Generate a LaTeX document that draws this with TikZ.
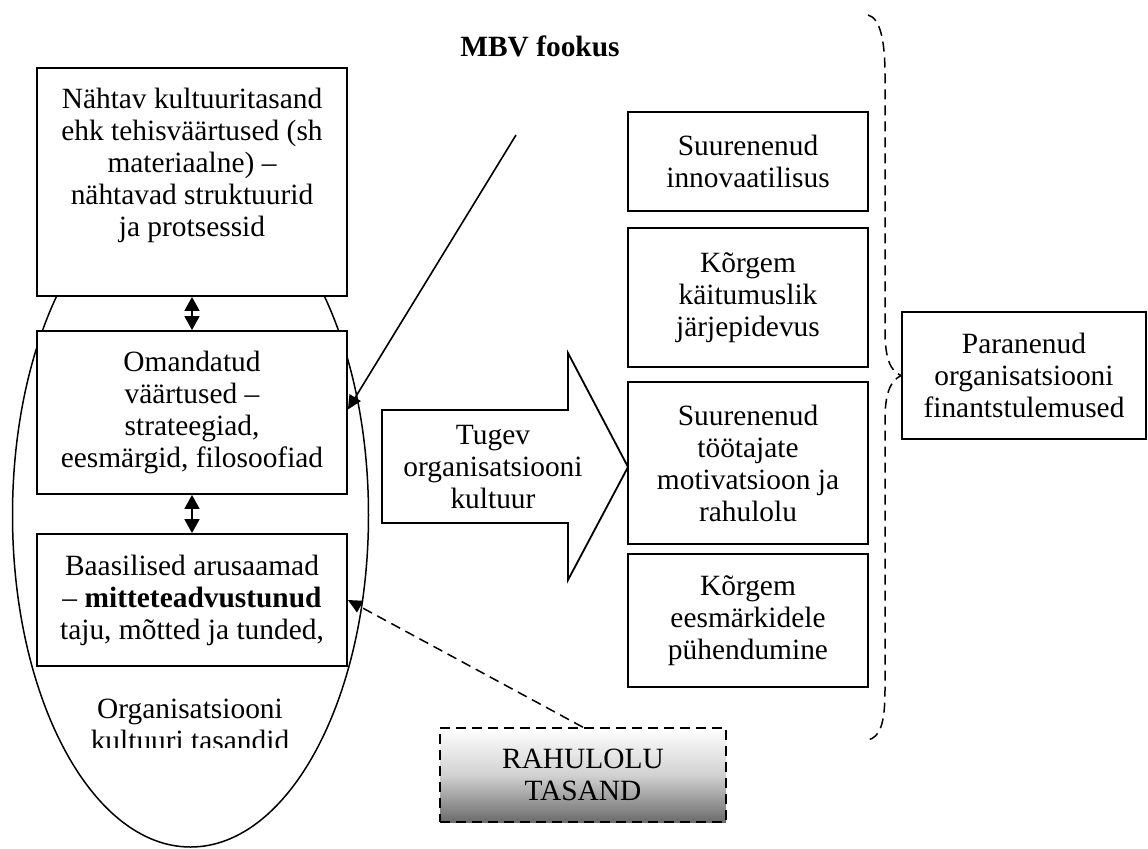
\documentclass[tikz,border=0pt]{standalone}
\usepackage{fontspec}
\setmainfont{Liberation Serif}
\usetikzlibrary{arrows.meta,calc}
\begin{document}
\begin{tikzpicture}[x=0.5pt,y=-0.5pt,
  txt/.style={font=\fontsize{14.7}{16}\selectfont, align=center},
  box/.style={txt, draw, line width=0.9pt, fill=white, inner sep=0pt},
  dbl/.style={{Triangle[length=7pt,width=7.5pt]}-{Triangle[length=7pt,width=7.5pt]}, line width=0.8pt},
  tip/.style={-{Triangle[length=7pt,width=6.5pt]}, line width=0.8pt},
  dash line/.style={dashed, dash pattern=on 5pt off 3pt, line width=0.75pt}
]
\useasboundingbox (0,0) rectangle (1148,848);

% the ellipse of culture levels, behind the boxes
\draw[line width=0.75pt] (190.5,515) ellipse [x radius=89pt, y radius=166pt];
\begin{scope}
  \clip (0,0) rectangle (1148,747);
  \node[txt] (levels) at (190,725) {Organisatsiooni\\kultuuri tasandid};
\end{scope}

% three levels of culture
\node[box, minimum width=155pt, minimum height=114pt] (b1) at (192,182) {};
\node[txt, anchor=north, inner sep=0pt] (b1t) at (192,88)
  {Nähtav kultuuritasand\\ehk tehisväärtused (sh\\materiaalne) –\\nähtavad struktuurid\\ja protsessid};
\node[box, minimum width=155pt, minimum height=81.5pt] (b2) at (192,412.5)
  {Omandatud\\väärtused –\\strateegiad,\\eesmärgid, filosoofiad};
\node[box, minimum width=155pt, minimum height=66pt] (b3) at (192,600)
  {Baasilised arusaamad\\– \textbf{mitteteadvustunud}\\taju, mõtted ja tunded,};

\draw[dbl] (b1.south) -- (b2.north);
\draw[dbl] (b2.south) -- (b3.north);

% focus label
\node[txt, font=\fontsize{14.7}{16}\selectfont\bfseries] (mbv) at (540,46) {MBV fookus};
\coordinate (mbvend) at (516,135);
\draw[tip] (mbvend) -- ($(b2.east)+(0,-3)$);

% big arrow
\draw[line width=0.9pt, fill=white] (382,410) -- (568,410) -- (568,353) -- (628,467)
  -- (568,580) -- (568,523) -- (382,523) -- cycle;
\node[txt] (strong) at (493,467) {Tugev\\organisatsiooni\\kultuur};

% outcomes
\node[box, minimum width=120pt, minimum height=49.5pt] (r1) at (748,161.5)
  {Suurenenud\\innovaatilisus};
\node[box, minimum width=120pt, minimum height=69.5pt] (r2) at (748,297.5)
  {Kõrgem\\käitumuslik\\järjepidevus};
\node[box, minimum width=120pt, minimum height=81pt] (r3) at (748,463)
  {Suurenenud\\töötajate\\motivatsioon ja\\rahulolu};
\node[box, minimum width=120pt, minimum height=66.5pt] (r4) at (748,620.5)
  {Kõrgem\\eesmärkidele\\pühendumine};

\node[box, minimum width=122pt, minimum height=63.5pt] (fin) at (1024,375.5)
  {Paranenud\\organisatsiooni\\finantstulemused};

% dashed brace gathering the outcomes
\draw[dash line] (868,15) .. controls (880,18) and (885,40) .. (885,75)
  -- (885,330) .. controls (885,358) and (890,371) .. (fin.west)
  .. controls (890,381) and (885,394) .. (885,420)
  -- (885,690) .. controls (885,724) and (880,737) .. (868,740);

% satisfaction level
\node[txt, draw, dash line, top color=white, bottom color=black!58, middle color=black!18,
  minimum width=143pt, minimum height=47pt] (rt) at (583,775) {RAHULOLU\\TASAND};
\draw[dash line, -{Triangle[length=7pt,width=6.5pt]}] (rt.north) -- (b3.east);
\end{tikzpicture}
\end{document}
